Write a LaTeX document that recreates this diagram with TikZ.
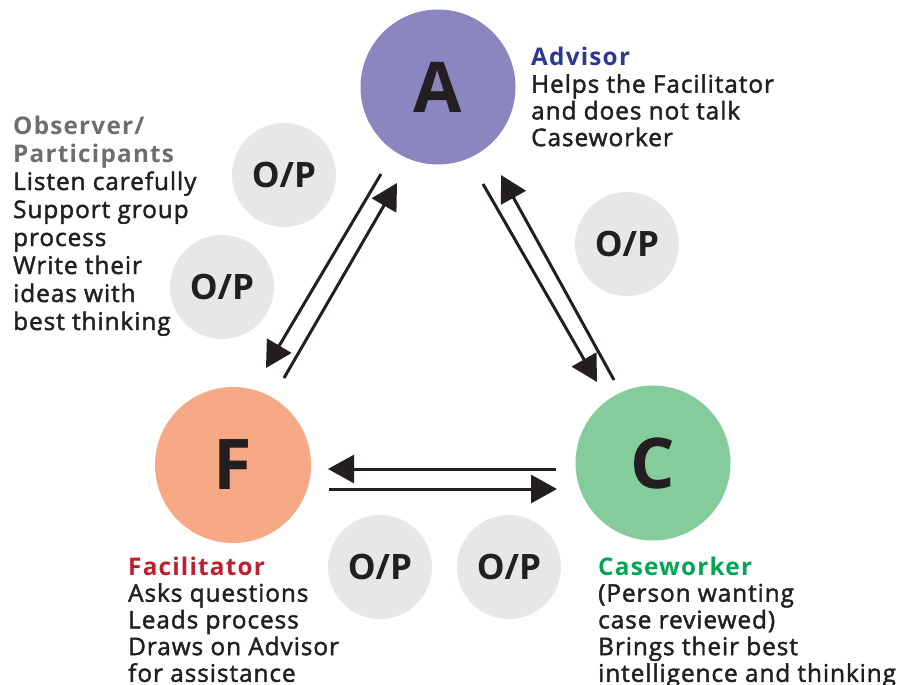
\documentclass[tikz,border=0pt]{standalone}
\usepackage{fontspec}
\setmainfont{Open Sans}[FakeBold=1.8,LetterSpace=4]
\newfontfamily\headfont{Open Sans Bold}
\newfontfamily\headspfont{Open Sans Bold}[LetterSpace=5]
\usetikzlibrary{arrows.meta}
\definecolor{txt}{HTML}{231F20}
\definecolor{advc}{HTML}{8B86BF}
\definecolor{facc}{HTML}{F7A985}
\definecolor{casc}{HTML}{84CC9C}
\definecolor{opc}{HTML}{E6E7E8}
\definecolor{advt}{HTML}{2B3990}
\definecolor{fact}{HTML}{BE1E2D}
\definecolor{cast}{HTML}{00A651}
\definecolor{obst}{HTML}{6D6E71}
\newcommand{\blk}[1]{\begin{tabular}[t]{@{}l@{}}#1\end{tabular}}
\begin{document}
\begin{tikzpicture}[x=1pt,y=-1pt,
  role/.style={circle,minimum size=#1,inner sep=0pt,text=txt,font=\headfont\fontsize{70}{70}\selectfont},
  opnode/.style={circle,fill=opc,minimum size=104pt,inner sep=0pt,text=txt,font=\headfont\fontsize{35}{35}\selectfont},
  desc/.style={anchor=base west,inner sep=0pt,text=txt,font=\fontsize{24.3}{26.7}\selectfont},
  conn/.style={line width=3pt,draw=txt,-{Triangle[length=26pt,width=28pt]}}]
\useasboundingbox (0,0) rectangle (902,685);
% role circles
\node[role=155pt,fill=advc] (A) at (438,87) {A};
\node[role=156pt,fill=facc] (F) at (233,465) {F};
\node[role=155pt,fill=casc] (C) at (653,463) {C};
% O/P circles
\node[opnode] (op1) at (284,175) {O/P};
\node[opnode] (op2) at (222,287) {O/P};
\node[opnode] (op3) at (627,244) {O/P};
\node[opnode] (op4) at (380,567) {O/P};
\node[opnode] (op5) at (509,567) {O/P};
% connector endpoints
\coordinate (afs) at (381,174);
\coordinate (afe) at (266,368);
\coordinate (fas) at (284,378);
\coordinate (fae) at (397,183);
\coordinate (acs) at (483,184);
\coordinate (ace) at (597,382);
\coordinate (cas) at (614,380);
\coordinate (cae) at (501,175);
\coordinate (cfs) at (556,469);
\coordinate (cfe) at (328,469);
\coordinate (fcs) at (329,489);
\coordinate (fce) at (557,489);
\draw[conn] (afs) -- (afe);
\draw[conn] (fas) -- (fae);
\draw[conn] (acs) -- (ace);
\draw[conn] (cas) -- (cae);
\draw[conn] (cfs) -- (cfe);
\draw[conn] (fcs) -- (fce);
% descriptions
\node[desc] (advtxt) at (531,66) {\blk{\textcolor{advt}{\headspfont Advisor}\\Helps the Facilitator\\and does not talk\\Caseworker}};
\node[desc,font=\fontsize{24.3}{28}\selectfont] (obstxt) at (13,134) {\blk{\textcolor{obst}{\headspfont Observer/}\\\textcolor{obst}{\headspfont Participants}\\Listen carefully\\Support group\\process\\Write their\\ideas with\\best thinking}};
\node[desc] (factxt) at (128,575) {\blk{\textcolor{fact}{\headspfont Facilitator}\\Asks questions\\Leads process\\Draws on Advisor\\for assistance}};
\node[desc] (castxt) at (598,575) {\blk{\textcolor{cast}{\headspfont Caseworker}\\(Person wanting\\case reviewed)\\Brings their best\\intelligence and thinking}};
\end{tikzpicture}
\end{document}
